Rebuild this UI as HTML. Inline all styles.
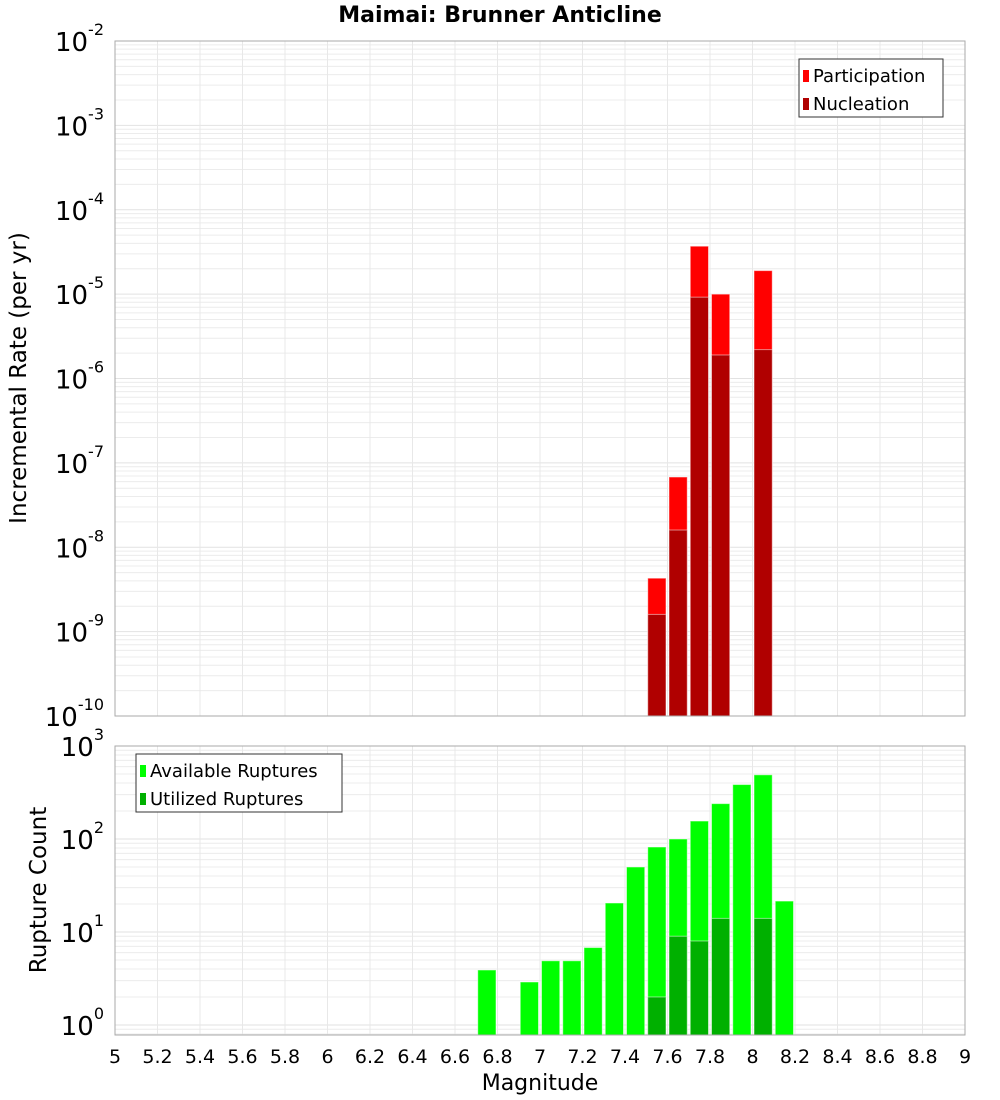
<!DOCTYPE html>
<html><head><meta charset="utf-8"><style>body{margin:0;background:#fff}svg{display:block;font-family:"DejaVu Sans","Liberation Sans",sans-serif}</style></head>
<body>
<svg id="c" width="1000" height="1100"></svg>
<script>
const topMags=[7.55,7.65,7.75,7.85,8.05];
const participation=[4.3e-9,6.8e-8,3.7e-5,1.0e-5,1.9e-5];
const nucleation=[1.6e-9,1.6e-8,9.2e-6,1.9e-6,2.2e-6];
const botMags=[6.75,6.95,7.05,7.15,7.25,7.35,7.45,7.55,7.65,7.75,7.85,7.95,8.05,8.15];
const available=[3.9,2.9,4.9,4.9,6.8,20.5,50,82,100,156,240,385,490,21.5];
const utilMags=[7.55,7.65,7.75,7.85,8.05];
const utilized=[2,9,8,14,14];
const xTicks=["5","5.2","5.4","5.6","5.8","6","6.2","6.4","6.6","6.8","7","7.2","7.4","7.6","7.8","8","8.2","8.4","8.6","8.8","9"];
const topExps=[-2,-3,-4,-5,-6,-7,-8,-9,-10];
const botExps=[3,2,1,0];

const svg=document.getElementById('c');const NS='http://www.w3.org/2000/svg';
function el(t,a,p){const e=document.createElementNS(NS,t);for(const k in a)e.setAttribute(k,a[k]);(p||svg).appendChild(e);return e;}
const L=115,R=965;
const X=m=>L+(m-5)/4*(R-L);
const T={t:41,b:716,lo:-10,hi:-2};
const B={t:746,b:1035,lo:Math.log10(0.78),hi:3};
const Y=(p,v)=>p.b-(Math.log10(v)-p.lo)/(p.hi-p.lo)*(p.b-p.t);
function grid(p,name){
  const g=el('g',{});
  for(let d=Math.floor(p.lo);d<p.hi;d++)for(let k=1;k<10;k++){const v=k*Math.pow(10,d);const lv=Math.log10(v);if(lv<p.lo||lv>p.hi)continue;const y=Y(p,v);el('line',{x1:L,x2:R,y1:y,y2:y,stroke:k==1?'#e2e2e2':'#ececec','stroke-width':1},g);}
  for(let i=0;i<xTicks.length;i++){const x=X(+xTicks[i]);el('line',{x1:x,x2:x,y1:p.t,y2:p.b,stroke:'#e8e8e8'},g);}
}
function frame(p,name){const r=el('rect',{x:L,y:p.t,width:R-L,height:p.b-p.t,fill:'none',stroke:'#aaa'});}
function bars(p,mags,vals,col,name){
  const w=(X(5.1)-X(5))-3;
  mags.forEach((m,i)=>{const y=Y(p,vals[i]);const r=el('rect',{x:X(m)-w/2,y:y,width:w,height:p.b-y,fill:col,stroke:'#fff','stroke-opacity':0.5,'stroke-width':1});
  });
}
grid(T,'top');grid(B,'bottom');
bars(T,topMags,participation,'#ff0000','participation');
bars(T,topMags,nucleation,'#b00000','nucleation');
bars(B,botMags,available,'#00ff00','available');
bars(B,utilMags,utilized,'#00b000','utilized');
frame(T,'top-plot');frame(B,'bottom-plot');
function ylab(p,exps,name){exps.forEach(e=>{const y=Y(p,Math.pow(10,e));const t=el('text',{x:104,y:y+10,'font-size':26,'text-anchor':'end',fill:'#000'});

t.innerHTML='10<tspan dy="-16" font-size="16">'+e+'</tspan>';});}
ylab(T,topExps,'top-y');ylab(B,botExps,'bottom-y');
xTicks.forEach(s=>{const t=el('text',{x:X(+s),y:1063,'font-size':19,'text-anchor':'middle'});t.textContent=s;});
function txt(s,a,name){const t=el('text',a);t.textContent=s;return t;}
txt('Maimai: Brunner Anticline',{x:500,y:22,'font-size':22,'font-weight':'bold','text-anchor':'middle'},'chart-title');
txt('Magnitude',{x:540,y:1090,'font-size':22,'text-anchor':'middle'},'x-axis-title');
txt('Incremental Rate (per yr)',{x:0,y:0,'font-size':23,'text-anchor':'middle',transform:'translate(26,378) rotate(-90)'},'top-y-axis-title');
txt('Rupture Count',{x:0,y:0,'font-size':23,'text-anchor':'middle',transform:'translate(46,890) rotate(-90)'},'bottom-y-axis-title');
function legend(x,y,w,items,name){const g=el('g',{});
el('rect',{x:x,y:y,width:w,height:58,fill:'#fff',stroke:'#333'},g);
items.forEach((it,i)=>{el('rect',{x:x+4,y:y+11+i*28,width:6,height:12,fill:it[1]},g);const t=el('text',{x:x+14,y:y+23+i*28,'font-size':18},g);t.textContent=it[0];});}
legend(799,59,144,[['Participation','#ff0000'],['Nucleation','#b00000']],'top-legend');
legend(136,754,206,[['Available Ruptures','#00ff00'],['Utilized Ruptures','#00b000']],'bottom-legend');
</script>
</body></html>
